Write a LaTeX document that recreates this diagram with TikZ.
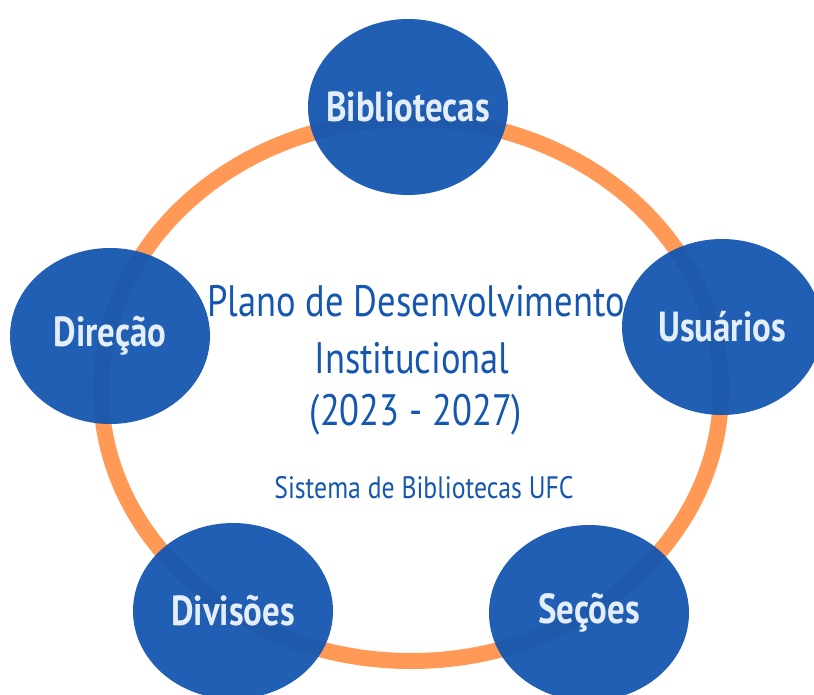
\documentclass[tikz,border=0pt]{standalone}
\usepackage{fontspec}
\usetikzlibrary{shapes.geometric}
\newfontfamily\handfont[FakeStretch=0.83]{PT Sans}
\definecolor{pdiblue}{RGB}{20,86,176}
\definecolor{pdiorange}{RGB}{255,153,85}
\definecolor{pdiwhite}{RGB}{228,238,248}
\newcommand\bublabel[1]{\makebox[0pt][c]{#1}}
\begin{document}
\begin{tikzpicture}[x=1pt,y=-1pt,line join=round,
	bubble/.style={ellipse,fill=pdiblue,fill opacity=0.95,text opacity=1,
		minimum width=200pt,minimum height=176pt,inner sep=0pt,
		text=pdiwhite,font=\handfont\bfseries\fontsize{42}{46}\selectfont},
	title/.style={text=pdiblue,font=\handfont\fontsize{44}{48}\selectfont,inner sep=0pt}]
	\def\cx{411} \def\cy{390} % centro do anel
	\def\rx{310} \def\ry{271}
	\useasboundingbox (0,0) rectangle (814,695);
	\clip (0,0) rectangle (814,695);
	% anel
	\draw[pdiorange,line width=16pt] (\cx,\cy) ellipse ({\rx} and {\ry});
	% bolhas
	\node[bubble] (bib) at (408,107) {\bublabel{Bibliotecas}};
	\node[bubble] (dir) at (110,336) {\bublabel{Direção}};
	\node[bubble] (usu) at (722,327) {\bublabel{Usuários}};
	\node[bubble] (div) at (233,611) {\bublabel{Divisões}};
	\node[bubble] (sec) at (589,613) {\bublabel{Seções}};
	% texto central
	\node[title,anchor=base] (pdi) at (416,316) {Plano de Desenvolvimento};
	\node[title,anchor=base] (inst) at (412,373) {Institucional};
	\node[title,anchor=base] (ano) at (416,425) {(2023 - 2027)};
	\node[title,anchor=base,font=\handfont\fontsize{31}{34}\selectfont] (sib) at (424,498) {Sistema de Bibliotecas UFC};
\end{tikzpicture}
\end{document}
